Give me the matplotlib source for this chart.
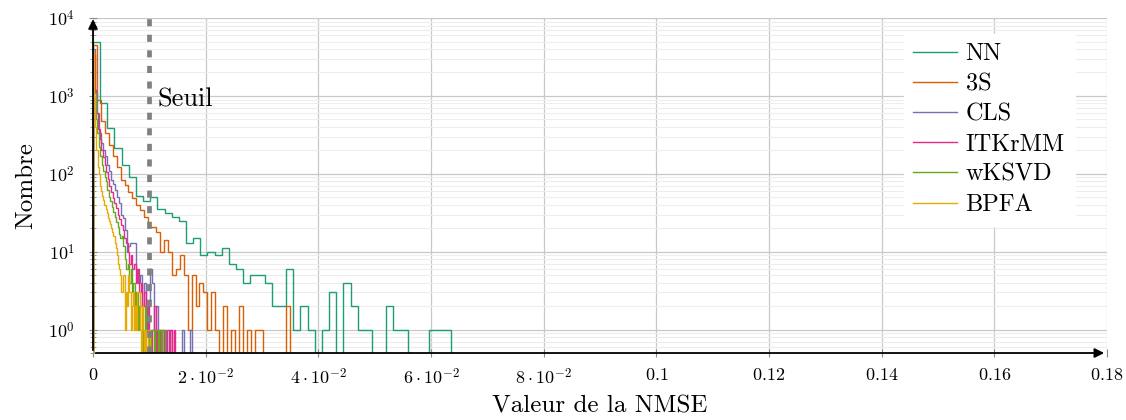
import numpy as np
import matplotlib
matplotlib.use('Agg')
import matplotlib.pyplot as plt

# histogram of the NMSE per method, 50 bins from 0 to the largest value
method_lst = ['NN', '3S', 'CLS', 'ITKrMM', 'wKSVD', 'BPFA']
nmse_max_lst = [0.0635, 0.0350, 0.0175, 0.0146, 0.0128, 0.0101]

nn_counts = [5000, 820, 385, 214, 130, 92, 52, 45, 50, 35,
             31, 28, 25, 13, 15, 9, 10, 9, 11, 7,
             6, 4, 5, 5, 4, 2, 2, 6, 1, 2,
             1, 0, 1, 3, 0, 4, 2, 1, 1, 0,
             0, 2, 1, 1, 0, 0, 0, 1, 1, 1]
s3_counts = [4500, 890, 470, 333, 235, 167, 124, 84, 72, 59,
             49, 40, 34, 28, 21, 21, 18, 10, 14, 10,
             5, 6, 9, 5, 1, 5, 2, 4, 3, 1,
             3, 1, 0, 2, 0, 1, 0, 2, 0, 1,
             0, 1, 1, 0, 0, 0, 0, 0, 0, 2]
cls_counts = [4000, 1100, 600, 330, 250, 200, 170, 130, 110, 84,
              75, 62, 50, 42, 30, 27, 19, 10, 12, 13,
              13, 13, 6, 4, 5, 2, 4, 1, 2, 6,
              4, 1, 2, 0, 1, 0, 1, 0, 0, 1,
              0, 0, 0, 0, 0, 1, 0, 0, 0, 1]
itkrmm_counts = [3500, 1200, 600, 380, 280, 200, 166, 130, 107, 85,
                 69, 58, 49, 42, 36, 30, 26, 22, 19, 15,
                 13, 10, 7, 9, 6, 7, 4, 6, 3, 4,
                 2, 3, 1, 2, 1, 0, 1, 2, 0, 1,
                 1, 0, 1, 0, 0, 1, 0, 1, 0, 1]
wksvd_counts = [3000, 1100, 500, 330, 220, 170, 130, 110, 90, 80,
                62, 51, 45, 38, 32, 28, 24, 21, 17, 15,
                16, 12, 8, 6, 7, 4, 6, 3, 4, 2,
                3, 1, 2, 2, 1, 0, 2, 1, 1, 0,
                1, 1, 0, 1, 1, 0, 1, 0, 1, 1]
bpfa_counts = [3800, 1000, 400, 200, 124, 100, 69, 60, 52, 46,
               40, 35, 31, 27, 25, 23, 20, 18, 16, 13,
               11, 9, 7, 6, 5, 3, 5, 5, 1, 3,
               2, 5, 3, 1, 2, 3, 1, 2, 1, 3,
               3, 1, 0, 2, 1, 0, 1, 0, 1, 1]
counts_lst = [nn_counts, s3_counts, cls_counts, itkrmm_counts, wksvd_counts, bpfa_counts]

threshold = 0.01
x_ticks = [0, 0.02, 0.04, 0.06, 0.08, 0.1, 0.12, 0.14, 0.16, 0.18]
x_tick_labels = ['$0$', r'$2\cdot10^{-2}$', r'$4\cdot10^{-2}$', r'$6\cdot10^{-2}$',
                 r'$8\cdot10^{-2}$', '$0.1$', '$0.12$', '$0.14$', '$0.16$', '$0.18$']
y_ticks = [1, 10, 100, 1000, 10000]
y_tick_labels = ['$10^{0}$', '$10^{1}$', '$10^{2}$', '$10^{3}$', '$10^{4}$']

# figure parameters
LABEL_SIZE = 18
TICK_SIZE = 13
LEGEND_SIZE = 17.5
color_lst = ['#1b9e77', '#d95f02', '#7570b3', '#e7298a', '#66a61e', '#e6ab02']

plt.rcParams['font.family'] = 'cmr10'
plt.rcParams['mathtext.fontset'] = 'cm'
plt.rcParams['axes.formatter.use_mathtext'] = True

fig = plt.figure(figsize=(11.26, 4.2), dpi=100)
ax = fig.add_axes([0.0826, 0.1595, 0.9005, 0.7975])

# grid first
ax.set_axisbelow(True)
ax.grid(True, which='major', axis='both', color='#c8c8c8', linewidth=0.9)
ax.grid(True, which='minor', axis='y', color='#ededed', linewidth=0.8)

# histograms
for idx, name in enumerate(method_lst):
    edges = np.linspace(0, nmse_max_lst[idx], len(counts_lst[idx]) + 1)
    ax.stairs(counts_lst[idx], edges, color=color_lst[idx], linewidth=1.0, label=name, zorder=2 + idx)

# threshold
ax.axvline(threshold, color='#808080', linewidth=3.4, dashes=(1.5, 1.8), zorder=10)
ax.text(threshold + 0.0014, 900, 'Seuil', fontsize=19, ha='left', va='center', zorder=11)

ax.set_yscale('log')
ax.set_xlim(0, 0.18)
ax.set_ylim(0.5, 10000)
ax.set_xticks(x_ticks)
ax.set_xticklabels(x_tick_labels, fontsize=TICK_SIZE)
ax.set_yticks(y_ticks)
ax.set_yticklabels(y_tick_labels, fontsize=TICK_SIZE)
ax.tick_params(axis='both', which='major', direction='inout', length=6, width=0.8, color='#888888')
ax.tick_params(axis='y', which='minor', direction='inout', length=4, width=0.6, color='#888888')
ax.tick_params(axis='x', pad=7)
ax.tick_params(axis='y', pad=10)

for side in ['top', 'right', 'left', 'bottom']:
    ax.spines[side].set_visible(False)
# arrow axes
ax.annotate('', xy=(1.0, 0), xytext=(0, 0), xycoords='axes fraction',
            arrowprops=dict(arrowstyle='-|>', color='black', lw=1.3, mutation_scale=14), zorder=20)
ax.annotate('', xy=(0, 1.005), xytext=(0, 0), xycoords='axes fraction',
            arrowprops=dict(arrowstyle='-|>', color='black', lw=1.3, mutation_scale=14), zorder=20)

ax.set_xlabel('Valeur de la NMSE', fontsize=LABEL_SIZE, labelpad=6)
ax.set_ylabel('Nombre', fontsize=LABEL_SIZE, labelpad=8)

leg = ax.legend(loc='upper right', bbox_to_anchor=(0.98, 0.99), fontsize=LEGEND_SIZE,
                frameon=True, fancybox=False, framealpha=1, edgecolor='white',
                handlelength=1.8, handletextpad=0.35, labelspacing=0.33, borderpad=0.4)
leg.set_zorder(30)

fig.savefig('out.png', dpi=100)
